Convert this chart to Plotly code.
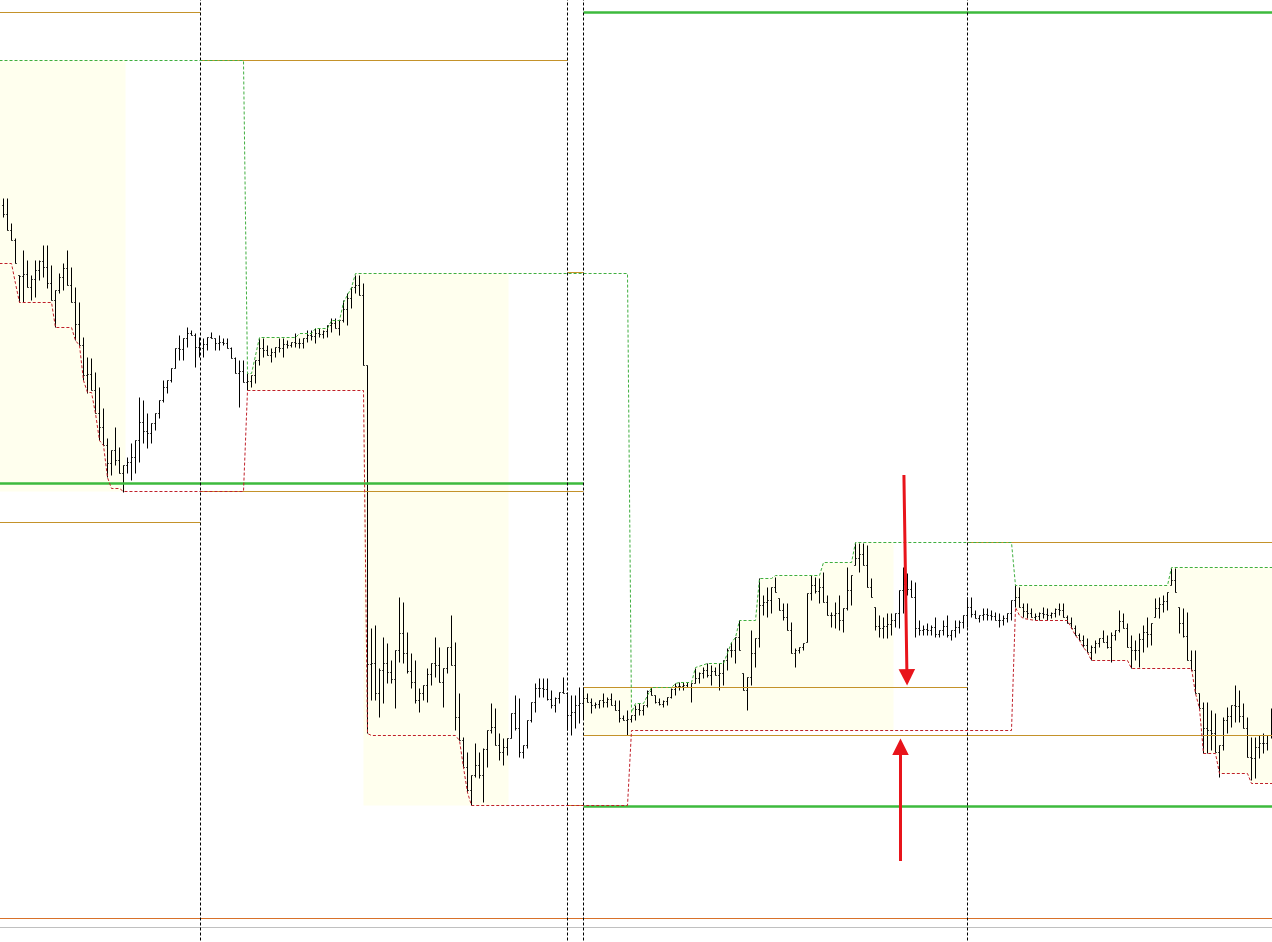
import numpy as np
import plotly.graph_objects as go

# bar data in price points, one bar per column of the chart
highs = [
    802, 802, 777, 762, 725, 750, 740, 725, 740, 740,
    755, 755, 735, 710, 727, 737, 750, 733, 713, 698,
    663, 643, 642, 628, 613, 592, 562, 550, 573, 553,
    535, 543, 557, 560, 603, 600, 587, 577, 587, 600,
    620, 620, 632, 652, 665, 662, 673, 670, 667, 663,
    662, 663, 668, 662, 665, 662, 662, 653, 643, 640,
    640, 627, 625, 640, 662, 662, 655, 652, 653, 662,
    662, 660, 658, 667, 662, 662, 670, 670, 672, 672,
    670, 675, 682, 682, 680, 700, 707, 713, 725, 725,
    717, 635, 372, 375, 332, 363, 357, 340, 350, 403,
    398, 368, 347, 340, 312, 315, 332, 337, 363, 353,
    332, 353, 385, 358, 307, 263, 248, 225, 257, 248,
    252, 270, 297, 292, 267, 262, 262, 287, 305, 302,
    255, 280, 298, 317, 322, 322, 322, 310, 303, 308,
    323, 308, 305, 305, 313, 313, 307, 302, 298, 300,
    307, 303, 307, 300, 300, 285, 290, 285, 295, 297,
    295, 310, 313, 305, 302, 300, 303, 312, 317, 318,
    318, 318, 317, 332, 328, 333, 337, 335, 333, 337,
    340, 352, 358, 363, 380, 327, 323, 370, 362, 422,
    405, 413, 413, 423, 402, 397, 397, 378, 352, 353,
    357, 407, 425, 423, 422, 428, 405, 388, 398, 405,
    392, 433, 425, 458, 457, 457, 455, 422, 393, 385,
    383, 387, 387, 387, 410, 433, 427, 420, 418, 380,
    375, 377, 375, 383, 370, 380, 385, 370, 380, 380,
    385, 403, 403, 390, 385, 392, 392, 390, 388, 387,
    385, 387, 400, 415, 413, 397, 397, 392, 387, 388,
    393, 392, 388, 392, 397, 397, 385, 383, 375, 367,
    365, 362, 355, 360, 362, 370, 365, 368, 370, 390,
    387, 377, 365, 360, 367, 375, 383, 377, 402, 403,
    405, 408, 432, 432, 393, 392, 388, 350, 350, 307,
    298, 298, 290, 287, 255, 283, 293, 295, 315, 310,
    297, 283, 263, 263, 265, 267, 265, 292,
]
lows = [
    783, 770, 760, 737, 698, 698, 713, 700, 703, 720,
    723, 712, 700, 673, 707, 710, 715, 698, 660, 655,
    620, 607, 610, 587, 560, 555, 523, 525, 535, 527,
    508, 527, 520, 527, 538, 557, 552, 557, 570, 582,
    598, 607, 618, 632, 640, 640, 653, 665, 633, 643,
    643, 650, 662, 650, 650, 655, 652, 642, 627, 593,
    618, 610, 613, 617, 635, 643, 645, 638, 643, 648,
    643, 652, 653, 653, 652, 652, 658, 660, 657, 663,
    662, 663, 668, 672, 665, 678, 675, 692, 707, 705,
    635, 267, 300, 300, 283, 297, 317, 317, 292, 338,
    337, 327, 312, 297, 288, 300, 298, 315, 323, 318,
    293, 327, 335, 270, 260, 233, 208, 195, 223, 222,
    198, 233, 267, 255, 240, 235, 245, 262, 270, 243,
    242, 252, 278, 288, 303, 303, 300, 292, 288, 297,
    307, 270, 265, 272, 277, 282, 298, 287, 292, 292,
    293, 293, 295, 290, 278, 280, 265, 278, 280, 285,
    285, 293, 305, 297, 295, 293, 295, 302, 305, 310,
    310, 313, 298, 317, 317, 322, 323, 315, 325, 310,
    315, 330, 343, 337, 350, 310, 290, 315, 333, 353,
    385, 383, 387, 408, 390, 380, 370, 347, 333, 347,
    350, 358, 400, 407, 397, 398, 385, 373, 372, 370,
    368, 390, 395, 435, 428, 435, 413, 403, 370, 363,
    362, 362, 365, 373, 372, 387, 405, 403, 363, 365,
    365, 365, 365, 363, 363, 365, 363, 360, 363, 367,
    372, 373, 383, 382, 378, 380, 380, 380, 380, 373,
    375, 378, 380, 393, 393, 383, 382, 383, 380, 380,
    382, 380, 382, 383, 385, 383, 377, 372, 365, 360,
    353, 348, 340, 347, 353, 358, 352, 338, 360, 368,
    372, 353, 332, 340, 333, 348, 353, 355, 383, 382,
    388, 390, 415, 408, 367, 363, 340, 330, 307, 292,
    247, 247, 250, 248, 223, 250, 267, 273, 278, 278,
    272, 243, 220, 222, 242, 247, 250, 262,
]
opens = [
    795, 786, 770, 760, 725, 724, 726, 713, 721, 730,
    739, 733, 717, 700, 710, 723, 732, 715, 698, 676,
    655, 625, 626, 610, 587, 573, 555, 537, 550, 540,
    527, 535, 538, 543, 560, 578, 569, 567, 577, 587,
    600, 613, 620, 632, 652, 651, 662, 667, 665, 653,
    652, 656, 663, 662, 657, 658, 657, 652, 642, 627,
    629, 618, 619, 625, 640, 652, 650, 645, 648, 653,
    652, 656, 655, 658, 657, 657, 662, 665, 664, 667,
    666, 669, 675, 677, 672, 680, 691, 702, 713, 715,
    705, 635, 336, 337, 307, 330, 337, 328, 321, 350,
    367, 347, 329, 318, 300, 307, 315, 326, 337, 335,
    318, 332, 353, 335, 283, 260, 233, 210, 225, 235,
    225, 251, 270, 273, 255, 248, 253, 262, 287, 272,
    248, 255, 280, 298, 312, 312, 311, 301, 295, 302,
    308, 307, 285, 288, 295, 297, 302, 298, 295, 296,
    300, 298, 301, 295, 290, 282, 280, 281, 285, 291,
    290, 295, 309, 305, 298, 296, 299, 303, 311, 314,
    314, 315, 313, 317, 322, 327, 330, 325, 329, 325,
    327, 340, 350, 350, 363, 327, 310, 323, 347, 362,
    395, 398, 400, 413, 402, 390, 383, 370, 347, 350,
    353, 358, 407, 415, 409, 413, 398, 385, 385, 387,
    380, 392, 410, 435, 442, 446, 435, 413, 393, 374,
    372, 374, 376, 380, 387, 410, 416, 411, 403, 372,
    370, 371, 370, 373, 366, 370, 374, 365, 370, 373,
    378, 385, 393, 386, 382, 385, 386, 385, 384, 380,
    380, 382, 387, 400, 403, 393, 389, 387, 383, 384,
    387, 386, 385, 387, 391, 390, 383, 377, 372, 365,
    360, 355, 348, 353, 357, 362, 358, 353, 365, 370,
    379, 372, 353, 350, 350, 361, 368, 366, 383, 392,
    396, 399, 415, 420, 393, 377, 364, 340, 330, 307,
    292, 272, 270, 267, 248, 255, 280, 284, 295, 294,
    284, 272, 243, 242, 253, 257, 257, 265,
]
closes = [
    786, 770, 760, 737, 724, 726, 713, 721, 730, 739,
    733, 717, 700, 710, 723, 732, 715, 698, 676, 655,
    625, 626, 610, 587, 573, 555, 537, 550, 540, 527,
    535, 538, 543, 560, 578, 569, 567, 577, 587, 600,
    613, 620, 632, 652, 651, 662, 667, 665, 653, 652,
    656, 663, 662, 657, 658, 657, 652, 642, 627, 629,
    618, 619, 625, 640, 652, 650, 645, 648, 653, 652,
    656, 655, 658, 657, 657, 662, 665, 664, 667, 666,
    669, 675, 677, 672, 680, 691, 702, 713, 715, 705,
    635, 336, 337, 307, 330, 337, 328, 321, 350, 367,
    347, 329, 318, 300, 307, 315, 326, 337, 335, 318,
    332, 353, 335, 283, 260, 233, 210, 225, 235, 225,
    251, 270, 273, 255, 248, 253, 262, 287, 272, 248,
    255, 280, 298, 312, 312, 311, 301, 295, 302, 308,
    307, 285, 288, 295, 297, 302, 298, 295, 296, 300,
    298, 301, 295, 290, 282, 280, 281, 285, 291, 290,
    295, 309, 305, 298, 296, 299, 303, 311, 314, 314,
    315, 313, 317, 322, 327, 330, 325, 329, 325, 327,
    340, 350, 350, 363, 350, 310, 323, 347, 362, 395,
    398, 400, 413, 408, 390, 383, 370, 347, 350, 353,
    357, 407, 415, 409, 413, 398, 385, 385, 387, 380,
    392, 410, 425, 442, 446, 435, 413, 403, 374, 372,
    374, 376, 380, 387, 410, 416, 411, 403, 372, 370,
    371, 370, 373, 366, 370, 374, 365, 370, 373, 378,
    385, 393, 386, 382, 385, 386, 385, 384, 380, 380,
    382, 387, 400, 403, 393, 389, 387, 383, 384, 387,
    386, 385, 387, 391, 390, 383, 377, 372, 365, 360,
    355, 348, 353, 357, 362, 358, 353, 365, 370, 379,
    372, 353, 350, 350, 361, 368, 366, 377, 392, 396,
    399, 408, 420, 408, 377, 364, 340, 330, 307, 292,
    272, 270, 267, 248, 255, 280, 284, 295, 294, 284,
    272, 243, 242, 253, 257, 257, 265, 280,
]
bars = list(range(len(highs)))

# running session high / low (bar index, price)
chan_high_x = [-1, 60, 61, 62, 64, 73, 74, 77, 78, 81, 82, 84, 85, 86, 87, 88,
               156, 157, 158, 160, 162, 167, 168, 169, 172, 173, 176, 180, 182,
               183, 184, 188, 189, 192, 193, 204, 205, 212, 213, 252, 253, 291,
               292, 318]
chan_high_y = [940, 940, 627, 627, 663, 663, 667, 667, 672, 672, 680, 680, 698,
               705, 713, 727, 727, 288, 297, 297, 313, 313, 317, 318, 318, 333,
               337, 337, 358, 363, 380, 380, 422, 422, 425, 425, 438, 438, 458,
               458, 415, 415, 433, 433]
chan_low_x = [-1, 2, 3, 4, 12, 13, 17, 18, 19, 20, 21, 22, 23, 24, 25, 26, 27,
              29, 30, 60, 61, 90, 91, 92, 113, 114, 115, 116, 117, 156, 157,
              252, 253, 254, 255, 258, 266, 267, 268, 269, 270, 271, 272, 281,
              282, 297, 298, 299, 300, 303, 304, 311, 312, 318]
chan_low_y = [737, 737, 717, 698, 698, 673, 673, 660, 655, 620, 608, 608, 587,
              560, 555, 523, 512, 512, 509, 509, 610, 610, 267, 265, 265, 260,
              233, 208, 195, 195, 270, 270, 393, 385, 382, 380, 380, 372, 365,
              360, 353, 348, 340, 340, 332, 332, 307, 292, 247, 247, 227, 227,
              217, 217]

# shaded session zones
box_zones = [(-1, 30.5, 509, 940), (90, 126.25, 195, 727), (145, 157, 265, 313)]
channel_zones = [(61, 90), (157, 222.5), (253, 318)]

# horizontal levels
gold_levels = [988, 940, 478, 509, 728, 195, 313, 265, 458]
gold_from = [-1, 49.25, -1, 49.25, 141, 141, 145, 145, 241]
gold_to = [49.25, 141, 49.25, 145, 145, 145, 241, 318, 318]
green_levels = [517, 988, 194]
green_from = [-1, 145, 145]
green_to = [145, 318, 318]
floor_level = 82
frame_level = 73

# day separators (bar index)
separators = [49.25, 141, 145, 241]

# red arrows: tip x, tip price, tail x, tail price
arrows = [(225.9, 315, 225.1, 527), (224.25, 262, 224.25, 138)]

FILL = "rgb(255,255,238)"
GOLD = "#C4922A"
LIME = "#3DBA3D"

fig = go.Figure()


def poly_path(xs, ys):
    pts = ["%s,%s" % (a, b) for a, b in zip(xs, ys)]
    return "M " + " L ".join(pts) + " Z"


# shaded zones sit under the bars
for x0, x1, lo, hi in box_zones:
    fig.add_shape(type="path", path=poly_path([x0, x1, x1, x0], [lo, lo, hi, hi]),
                  xref="x", yref="y", fillcolor=FILL, line_width=0, layer="below")

for x0, x1 in channel_zones:
    xs = sorted(set([x0, x1] + [x for x in chan_high_x + chan_low_x if x0 < x < x1]))
    top = np.interp(xs, chan_high_x, chan_high_y)
    bot = np.interp(xs, chan_low_x, chan_low_y)
    fig.add_shape(type="path",
                  path=poly_path(xs + xs[::-1], list(top) + list(bot[::-1])),
                  xref="x", yref="y", fillcolor=FILL, line_width=0, layer="below")


def segments(starts, ends, levels):
    xs, ys = [], []
    for a, b, v in zip(starts, ends, levels):
        xs += [a, b, None]
        ys += [v, v, None]
    return xs, ys


gx, gy = segments(gold_from, gold_to, gold_levels)
fig.add_trace(go.Scatter(x=gx, y=gy, mode="lines",
                         line=dict(color=GOLD, width=1), hoverinfo="skip"))
lx, ly = segments(green_from, green_to, green_levels)
fig.add_trace(go.Scatter(x=lx, y=ly, mode="lines",
                         line=dict(color=LIME, width=2.5), hoverinfo="skip"))
fx, fy = segments([-1], [318], [floor_level])
fig.add_trace(go.Scatter(x=fx, y=fy, mode="lines",
                         line=dict(color="#D8712A", width=1), hoverinfo="skip"))
kx, ky = segments([-1], [318], [frame_level])
fig.add_trace(go.Scatter(x=kx, y=ky, mode="lines",
                         line=dict(color="#C0C0C0", width=1), hoverinfo="skip"))

sx, sy = [], []
for s in separators:
    sx += [s, s, None]
    sy += [40, 1010, None]
fig.add_trace(go.Scatter(x=sx, y=sy, mode="lines",
                         line=dict(color="black", width=1, dash="3px,2px"),
                         hoverinfo="skip"))

fig.add_trace(go.Scatter(x=chan_high_x, y=chan_high_y, mode="lines",
                         line=dict(color="#3FAF3F", width=1, dash="3px,2px"),
                         hoverinfo="skip"))
fig.add_trace(go.Scatter(x=chan_low_x, y=chan_low_y, mode="lines",
                         line=dict(color="#C0202A", width=1, dash="3px,2px"),
                         hoverinfo="skip"))

fig.add_trace(go.Ohlc(
    x=bars, open=opens, high=highs, low=lows, close=closes,
    increasing_line_color="black", decreasing_line_color="black",
    line_width=1, tickwidth=0.3, hoverinfo="skip"
))

for tx, ty, ax, ay in arrows:
    fig.add_annotation(
        x=tx, y=ty, ax=ax, ay=ay, xref="x", yref="y", axref="x", ayref="y",
        text="", showarrow=True, arrowhead=2, arrowsize=1.1, arrowwidth=3,
        arrowcolor="#E8141B", standoff=0
    )

fig.update_layout(
    width=1272,
    height=942,
    margin=dict(l=0, r=0, t=0, b=0),
    paper_bgcolor="white",
    plot_bgcolor="white",
    showlegend=False,
    xaxis=dict(range=[-0.875, 317.125], visible=False, rangeslider=dict(visible=False)),
    yaxis=dict(range=[58.5, 1000.5], visible=False),
)

fig.write_html("out.html", config={"displayModeBar": False},
               post_script="document.body.style.margin='0';")
